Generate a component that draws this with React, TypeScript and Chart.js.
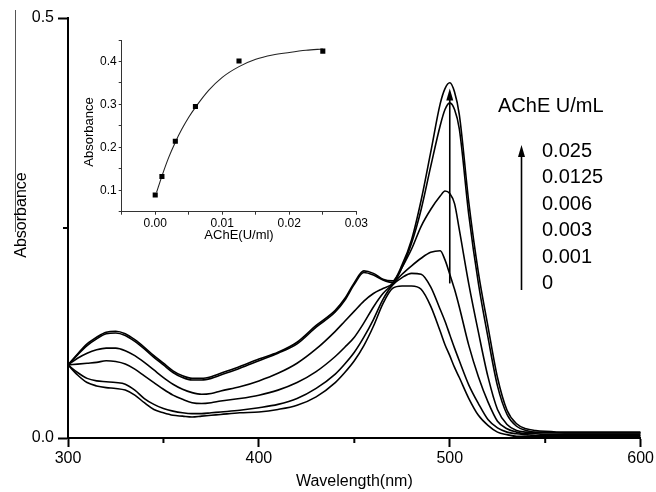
import { useEffect, useRef } from 'react';
import { Chart, registerables } from 'chart.js';

Chart.register(...registerables);

const FONT = "'Liberation Sans', Arial, Helvetica, sans-serif";

// ---- main spectra data ----
const wavelengths = [300, 305, 310, 315, 320, 325, 330, 335, 340, 345, 350, 355, 360, 365, 370, 375, 380, 390, 400, 410, 420, 430, 440, 445, 450, 455, 460, 465, 470, 475, 480, 485, 490, 495, 497.5, 500, 502.5, 505, 510, 515, 520, 525, 530, 535, 540, 545, 550, 560, 570, 580, 590, 600];

const abs025 = [0.087, 0.100, 0.112, 0.120, 0.126, 0.127, 0.124, 0.117, 0.108, 0.098, 0.089, 0.080, 0.074, 0.071, 0.071, 0.073, 0.077, 0.085, 0.094, 0.102, 0.114, 0.134, 0.152, 0.166, 0.185, 0.199, 0.196, 0.189, 0.187, 0.206, 0.236, 0.283, 0.340, 0.398, 0.416, 0.423, 0.412, 0.385, 0.280, 0.197, 0.133, 0.072, 0.033, 0.017, 0.011, 0.009, 0.008, 0.007, 0.007, 0.007, 0.007, 0.007];
const abs0125 = [0.087, 0.099, 0.110, 0.118, 0.124, 0.125, 0.122, 0.115, 0.106, 0.096, 0.087, 0.078, 0.072, 0.069, 0.069, 0.071, 0.075, 0.083, 0.092, 0.101, 0.112, 0.132, 0.150, 0.164, 0.183, 0.197, 0.194, 0.188, 0.185, 0.203, 0.232, 0.272, 0.323, 0.372, 0.391, 0.399, 0.391, 0.368, 0.265, 0.184, 0.120, 0.062, 0.028, 0.014, 0.009, 0.007, 0.007, 0.006, 0.006, 0.006, 0.006, 0.006];
const abs006 = [0.087, 0.095, 0.101, 0.105, 0.107, 0.107, 0.104, 0.098, 0.090, 0.081, 0.072, 0.064, 0.058, 0.054, 0.052, 0.053, 0.056, 0.061, 0.068, 0.077, 0.089, 0.106, 0.127, 0.139, 0.151, 0.163, 0.172, 0.178, 0.184, 0.203, 0.225, 0.252, 0.272, 0.288, 0.294, 0.291, 0.279, 0.248, 0.183, 0.126, 0.073, 0.034, 0.016, 0.009, 0.007, 0.006, 0.006, 0.006, 0.006, 0.006, 0.006, 0.006];
const abs003 = [0.087, 0.088, 0.089, 0.090, 0.092, 0.091, 0.088, 0.082, 0.074, 0.066, 0.058, 0.051, 0.046, 0.042, 0.041, 0.042, 0.044, 0.047, 0.051, 0.057, 0.066, 0.079, 0.097, 0.108, 0.120, 0.137, 0.156, 0.172, 0.183, 0.195, 0.205, 0.214, 0.221, 0.223, 0.212, 0.195, 0.177, 0.156, 0.110, 0.073, 0.043, 0.020, 0.011, 0.007, 0.005, 0.005, 0.004, 0.004, 0.004, 0.004, 0.004, 0.004];
const abs001 = [0.087, 0.078, 0.071, 0.068, 0.067, 0.066, 0.064, 0.057, 0.047, 0.040, 0.035, 0.032, 0.030, 0.029, 0.029, 0.030, 0.031, 0.033, 0.036, 0.040, 0.047, 0.059, 0.076, 0.088, 0.102, 0.120, 0.141, 0.165, 0.182, 0.191, 0.196, 0.195, 0.180, 0.153, 0.139, 0.123, 0.107, 0.092, 0.063, 0.041, 0.022, 0.012, 0.007, 0.005, 0.004, 0.003, 0.003, 0.003, 0.003, 0.003, 0.003, 0.003];
const abs0 = [0.087, 0.075, 0.066, 0.062, 0.060, 0.059, 0.057, 0.051, 0.042, 0.034, 0.030, 0.027, 0.026, 0.025, 0.026, 0.027, 0.028, 0.030, 0.031, 0.034, 0.039, 0.049, 0.066, 0.078, 0.092, 0.110, 0.133, 0.160, 0.178, 0.181, 0.181, 0.177, 0.157, 0.127, 0.111, 0.098, 0.084, 0.072, 0.047, 0.027, 0.015, 0.007, 0.004, 0.002, 0.002, 0.002, 0.002, 0.002, 0.002, 0.002, 0.002, 0.002];

const spectra = [abs025, abs0125, abs006, abs003, abs001, abs0];
const concLabels = ['0.025', '0.0125', '0.006', '0.003', '0.001', '0'];
const legendTitle = 'AChE U/mL';
const xMajorTicks = [300, 400, 500, 600];
const yMajorTicks = [0, 0.5];

// ---- inset data ----
const insetConc = [0, 0.001, 0.003, 0.006, 0.0125, 0.025];
const insetAbs = [0.089, 0.132, 0.214, 0.295, 0.401, 0.424];
const fitConc = [0.0002, 0.001, 0.002, 0.003, 0.004, 0.005, 0.006, 0.008, 0.010, 0.0125, 0.015, 0.0175, 0.020, 0.0225, 0.025];
const fitAbs = [0.095, 0.133, 0.176, 0.212, 0.243, 0.270, 0.293, 0.333, 0.363, 0.388, 0.405, 0.415, 0.421, 0.426, 0.429];

function drawArrow(ctx: CanvasRenderingContext2D, x: number, y0: number, yTip: number) {
  ctx.save();
  ctx.strokeStyle = '#000';
  ctx.fillStyle = '#000';
  ctx.lineWidth = 1.6;
  ctx.beginPath();
  ctx.moveTo(x, y0);
  ctx.lineTo(x, yTip + 10);
  ctx.stroke();
  ctx.beginPath();
  ctx.moveTo(x, yTip);
  ctx.lineTo(x - 3.5, yTip + 12);
  ctx.lineTo(x + 3.5, yTip + 12);
  ctx.closePath();
  ctx.fill();
  ctx.restore();
}

const mainDecor = {
  id: 'mainDecor',
  afterDraw(chart: any) {
    const { ctx, chartArea } = chart;
    const xs = chart.scales.x;
    const ys = chart.scales.y;
    ctx.save();
    ctx.strokeStyle = '#000';
    ctx.lineWidth = 2;
    // minor ticks
    [350, 450, 550].forEach((v) => {
      const px = xs.getPixelForValue(v);
      ctx.beginPath();
      ctx.moveTo(px, chartArea.bottom);
      ctx.lineTo(px, chartArea.bottom + 5);
      ctx.stroke();
    });
    const py = ys.getPixelForValue(0.25);
    ctx.beginPath();
    ctx.moveTo(chartArea.left - 5, py);
    ctx.lineTo(chartArea.left, py);
    ctx.stroke();

    // y title with overline artifact
    ctx.strokeStyle = '#555';
    ctx.lineWidth = 1;
    ctx.beginPath();
    ctx.moveTo(15.5, 10);
    ctx.lineTo(15.5, 232);
    ctx.stroke();
    ctx.fillStyle = '#000';
    ctx.font = `16px ${FONT}`;
    ctx.textAlign = 'center';
    ctx.textBaseline = 'middle';
    ctx.save();
    ctx.translate(22, 215);
    ctx.rotate(-Math.PI / 2);
    ctx.fillText('Absorbance', 0, 0);
    ctx.restore();

    // arrow inside the plot at 500 nm
    drawArrow(ctx, xs.getPixelForValue(500), ys.getPixelForValue(0.184), ys.getPixelForValue(0.416));

    // legend
    ctx.font = `20px ${FONT}`;
    ctx.textAlign = 'left';
    ctx.textBaseline = 'middle';
    ctx.fillText(legendTitle, 498, 106);
    concLabels.forEach((t, i) => {
      ctx.fillText(t, 542, 151 + i * 26.5);
    });
    drawArrow(ctx, 521.5, 290, 145);
    ctx.restore();
  },
};

const insetDecor = {
  id: 'insetDecor',
  afterDraw(chart: any) {
    const { ctx } = chart;
    ctx.save();
    ctx.fillStyle = '#000';
    ctx.font = `13px ${FONT}`;
    ctx.textAlign = 'center';
    ctx.textBaseline = 'middle';
    ctx.translate(19.5, 112);
    ctx.rotate(-Math.PI / 2);
    ctx.fillText('Absorbance', 0, 0);
    ctx.restore();
  },
};

export default function App() {
  const mainRef = useRef<HTMLCanvasElement | null>(null);
  const insetRef = useRef<HTMLCanvasElement | null>(null);

  useEffect(() => {
    if (!mainRef.current || !insetRef.current) return;
    const main = new Chart(mainRef.current, {
      type: 'line',
      data: {
        datasets: spectra.map((s, k) => ({
          label: concLabels[k],
          data: wavelengths.map((w, i) => ({ x: w, y: s[i] })),
          borderColor: '#000',
          borderWidth: 1.6,
          pointRadius: 0,
          fill: false,
          cubicInterpolationMode: 'monotone' as const,
        })),
      },
      options: {
        responsive: false,
        animation: false,
        events: [],
        layout: { padding: { left: 0, right: 15, top: 18, bottom: 0 } },
        plugins: { legend: { display: false }, tooltip: { enabled: false } },
        scales: {
          x: {
            type: 'linear',
            min: 300,
            max: 600,
            afterFit: (s: any) => { s.height = 54; },
            border: { display: true, color: '#000', width: 2 },
            grid: {
              drawOnChartArea: false,
              drawTicks: true,
              tickLength: 9,
              tickWidth: 2,
              tickColor: (c: any) => (c.tick && xMajorTicks.includes(c.tick.value) ? '#000' : 'rgba(0,0,0,0)'),
            },
            ticks: {
              stepSize: 50,
              autoSkip: false,
              maxRotation: 0,
              padding: 2,
              color: '#000',
              font: { family: FONT, size: 16 },
              callback: (v: any) => (xMajorTicks.includes(Number(v)) ? String(v) : ''),
            },
            title: {
              display: true,
              text: 'Wavelength(nm)',
              color: '#000',
              font: { family: FONT, size: 16 },
              padding: { top: 0, bottom: 1 },
            },
          },
          y: {
            type: 'linear',
            min: 0,
            max: 0.5,
            afterFit: (s: any) => { s.width = 68; },
            border: { display: true, color: '#000', width: 2 },
            grid: {
              drawOnChartArea: false,
              drawTicks: true,
              tickLength: 10,
              tickWidth: 2,
              tickColor: (c: any) => (c.tick && yMajorTicks.includes(c.tick.value) ? '#000' : 'rgba(0,0,0,0)'),
            },
            ticks: {
              stepSize: 0.25,
              autoSkip: false,
              padding: 4,
              color: '#000',
              font: { family: FONT, size: 16 },
              callback: (v: any) => (yMajorTicks.includes(Number(v)) ? Number(v).toFixed(1) : ''),
            },
          },
        },
      },
      plugins: [mainDecor],
    } as any);

    const inset = new Chart(insetRef.current, {
      type: 'line',
      data: {
        datasets: [
          {
            label: 'points',
            data: insetConc.map((c, i) => ({ x: c, y: insetAbs[i] })),
            showLine: false,
            pointStyle: 'rect',
            pointRadius: 3.6,
            pointBackgroundColor: '#000',
            pointBorderColor: '#000',
            pointBorderWidth: 0,
          },
          {
            label: 'fit',
            data: fitConc.map((c, i) => ({ x: c, y: fitAbs[i] })),
            borderColor: '#222',
            borderWidth: 1.1,
            pointRadius: 0,
            fill: false,
            cubicInterpolationMode: 'monotone' as const,
          },
        ],
      },
      options: {
        responsive: false,
        animation: false,
        events: [],
        layout: { padding: { left: 0, right: 10.6, top: 20, bottom: 0 } },
        plugins: { legend: { display: false }, tooltip: { enabled: false } },
        scales: {
          x: {
            type: 'linear',
            min: -0.005,
            max: 0.03,
            afterFit: (s: any) => { s.height = 38.3; },
            border: { display: true, color: '#333', width: 1 },
            grid: { drawOnChartArea: false, drawTicks: true, tickLength: 3, tickColor: '#333' },
            ticks: {
              stepSize: 0.005,
              autoSkip: false,
              maxRotation: 0,
              padding: 2,
              color: '#000',
              font: { family: FONT, size: 12 },
              callback: (v: any) => {
                const m = Math.round(Number(v) * 1000);
                return m % 10 === 0 ? (m / 1000).toFixed(2) : '';
              },
            },
            title: {
              display: true,
              text: 'AChE(U/ml)',
              color: '#000',
              font: { family: FONT, size: 13 },
              padding: { top: 0, bottom: 7 },
            },
          },
          y: {
            type: 'linear',
            min: 0.05,
            max: 0.45,
            afterFit: (s: any) => { s.width = 51.7; },
            border: { display: true, color: '#333', width: 1 },
            grid: { drawOnChartArea: false, drawTicks: true, tickLength: 3, tickColor: '#333' },
            ticks: {
              stepSize: 0.05,
              autoSkip: false,
              padding: 2,
              color: '#000',
              font: { family: FONT, size: 12 },
              callback: (v: any) => {
                const m = Math.round(Number(v) * 100);
                return m % 10 === 0 ? (m / 100).toFixed(1) : '';
              },
            },
          },
        },
      },
      plugins: [insetDecor],
    } as any);

    return () => {
      main.destroy();
      inset.destroy();
    };
  }, []);

  return (
    <div style={{ position: 'absolute', left: 0, top: 0, width: 656, height: 492, background: '#fff' }}>
      <canvas ref={mainRef} width={656} height={492} style={{ position: 'absolute', left: 0, top: 0 }} />
      <canvas ref={insetRef} width={300} height={230} style={{ position: 'absolute', left: 70, top: 20 }} />
    </div>
  );
}
